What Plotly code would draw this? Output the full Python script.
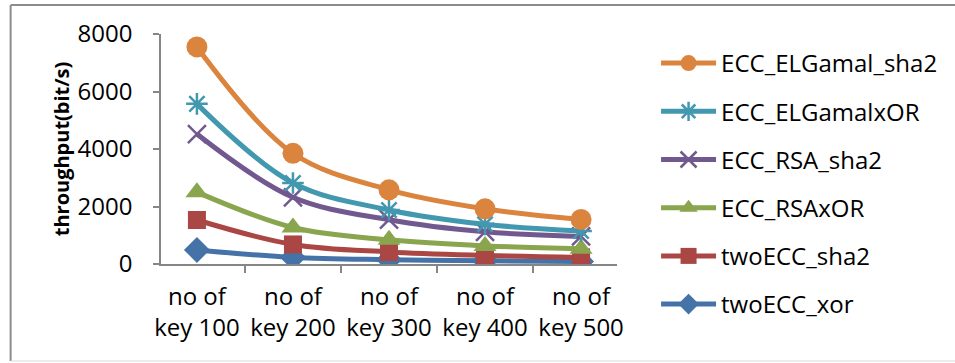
import plotly.graph_objects as go

# Throughput per key count for each scheme
categories = ["no of<br>key 100", "no of<br>key 200", "no of<br>key 300", "no of<br>key 400", "no of<br>key 500"]
two_ecc_xor = [490, 230, 150, 110, 90]
two_ecc_sha2 = [1530, 680, 420, 300, 230]
ecc_rsa_xor = [2500, 1270, 840, 630, 530]
ecc_rsa_sha2 = [4520, 2320, 1540, 1120, 960]
ecc_elgamal_xor = [5570, 2820, 1880, 1380, 1150]
ecc_elgamal_sha2 = [7550, 3850, 2580, 1920, 1550]

FONT = "Open Sans"

series = [
    ("twoECC_xor", two_ecc_xor, "#4572A7", dict(symbol="diamond", size=20)),
    ("twoECC_sha2", two_ecc_sha2, "#AA4643", dict(symbol="square", size=18)),
    ("ECC_RSAxOR", ecc_rsa_xor, "#89A54E", dict(symbol="triangle-up", size=20)),
    ("ECC_RSA_sha2", ecc_rsa_sha2, "#71588F", dict(symbol="x-thin-open", size=18, line=dict(width=2.5))),
    ("ECC_ELGamalxOR", ecc_elgamal_xor, "#4198AF", dict(symbol="asterisk-open", size=18, line=dict(width=2.5))),
    ("ECC_ELGamal_sha2", ecc_elgamal_sha2, "#DB843D", dict(symbol="circle", size=21)),
]

fig = go.Figure()
n = len(series)
for i, (name, vals, color, marker) in enumerate(series):
    m = dict(marker)
    m["color"] = color
    if "line" in m:
        m["line"] = dict(m["line"], color=color)
    fig.add_trace(go.Scatter(
        x=categories, y=vals, name=name, mode="lines+markers",
        line=dict(color=color, width=5, shape="spline", smoothing=1),
        marker=m, legendgroup=f"g{i}", legendrank=n - i,
    ))

axis_color = "#868686"
border = "#8C8C8C"


def px_x(p):
    return (p - 161) / 467


def px_y(p):
    return (264 - p) / 230


fig.update_layout(
    width=955, height=363,
    margin=dict(l=161, r=327, t=34, b=99),
    paper_bgcolor="white", plot_bgcolor="white",
    font=dict(family=FONT, size=24, color="black"),
    showlegend=True,
    legend=dict(
        x=px_x(668), y=px_y(41), xanchor="left", yanchor="top",
        traceorder="grouped", tracegroupgap=14, maxheight=400,
        font=dict(family=FONT, size=24, color="black"),
        itemwidth=55, bgcolor="rgba(0,0,0,0)",
    ),
    xaxis=dict(
        type="category", showgrid=False, showline=True, linecolor=axis_color, linewidth=1.5,
        ticks="outside", tickson="boundaries", ticklen=7, tickcolor=axis_color, tickwidth=1.5,
        tickfont=dict(family=FONT, size=24), ticklabelstandoff=10, automargin=False, fixedrange=True,
    ),
    yaxis=dict(
        range=[0, 8000], tickvals=[0, 2000, 4000, 6000, 8000], showgrid=False, zeroline=False,
        showline=True, linecolor=axis_color, linewidth=1.5,
        ticks="outside", ticklen=6, tickcolor=axis_color, tickwidth=1.5,
        tickfont=dict(family=FONT, size=24), ticklabelstandoff=16, automargin=False,
        title=dict(text="<b>throughput(bit/s)</b>", font=dict(family=FONT, size=20), standoff=3),
    ),
    shapes=[
        dict(type="line", xref="paper", yref="paper", x0=px_x(7), x1=px_x(7),
             y0=px_y(5), y1=px_y(361), line=dict(color=border, width=2), layer="below"),
        dict(type="line", xref="paper", yref="paper", x0=px_x(7), x1=px_x(1000),
             y0=px_y(5), y1=px_y(5), line=dict(color=border, width=2), layer="below"),
        dict(type="line", xref="paper", yref="paper", x0=px_x(7), x1=px_x(1000),
             y0=px_y(361), y1=px_y(361), line=dict(color="#D9D9D9", width=1), layer="below"),
    ],
)

fig.write_html("out.html")
